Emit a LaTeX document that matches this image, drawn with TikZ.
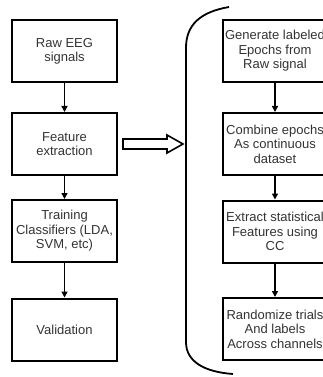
\documentclass[tikz,border=0pt]{standalone}
\usepackage{fontspec}
\setmainfont{Liberation Sans}
\usepackage{tikz}
\usetikzlibrary{arrows.meta,calc}

\tikzset{
  stepbox/.style={draw=black, line width=2pt, minimum width=105pt, minimum height=62pt,
    align=center, inner sep=0pt, text=black!80, font=\fontsize{13}{14.5}\selectfont},
  flow/.style={line width=1.6pt, -{Triangle[length=6pt,width=6pt]}}
}

\begin{document}
\begin{tikzpicture}[x=1pt,y=-1pt]
  \clip (0,0) rectangle (323,377);
  % left column
  \node[stepbox] (raw)   at (64.5,51.5)  {Raw EEG\\signals};
  \node[stepbox] (feat)  at (64.5,144)   {Feature\\extraction};
  \node[stepbox] (train) at (64.5,231)   {Training\\Classifiers (LDA,\\SVM, etc)};
  \node[stepbox] (valid) at (64.5,329.5) {Validation};
  \draw[flow] (raw) -- (feat);
  \draw[flow] (feat) -- (train);
  \draw[flow] (train) -- (valid);
  % right column
  \node[stepbox] (epoch) at (275,51)    {Generate labeled\\Epochs from\\Raw signal};
  \node[stepbox] (comb)  at (275,144)   {Combine epochs\\As continuous\\dataset};
  \node[stepbox] (stat)  at (275,231.5) {Extract statistical\\Features using\\CC};
  \node[stepbox] (rand)  at (275,329)   {Randomize trials\\And labels\\Across channels};
  \draw[flow] (epoch) -- (comb);
  \draw[flow] (comb) -- (stat);
  \draw[flow] (stat) -- (rand);
  % hollow arrow
  \coordinate (a0) at ($(feat.east)+(5,0)$);
  \draw[line width=1.6pt, line join=miter]
    (a0) ++(0,-5) -- ++(44,0) -- ++(0,-4) -- ++(16,9) -- ++(-16,9) -- ++(0,-4) -- ++(-44,0) -- cycle;
  % bracket
  \draw[line width=1.8pt] (229,7) .. controls (200,12) and (186,25) .. (186,48)
    -- (186,342) .. controls (186,362) and (205,372) .. (233,374);
\end{tikzpicture}
\end{document}
